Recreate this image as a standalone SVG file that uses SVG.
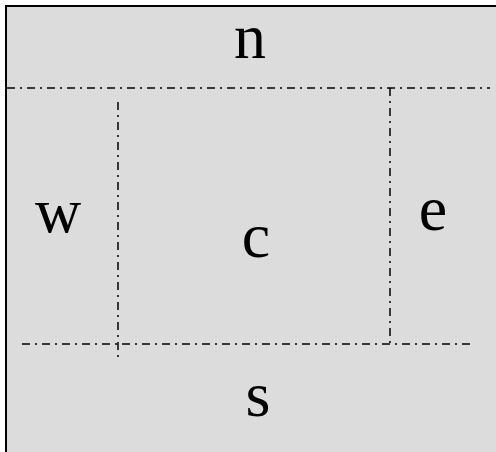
<svg xmlns="http://www.w3.org/2000/svg" width="496" height="452" viewBox="0 0 496 452">
<style>
.lbl{font-family:"Liberation Serif","Times New Roman",serif;font-size:64px;fill:#000;text-anchor:middle}
.dd{stroke:#000;stroke-width:1.5;stroke-dasharray:8 5 2 5;fill:none}
</style>
<rect x="6" y="6" width="520" height="480" fill="#dcdcdc" stroke="#000" stroke-width="2"/>
<g id="connectors">
<line class="dd" x1="7" y1="88" x2="490" y2="88"/>
<line class="dd" x1="22" y1="344" x2="470" y2="344"/>
<line class="dd" x1="118" y1="102" x2="118" y2="360"/>
<line class="dd" x1="390" y1="88" x2="390" y2="344"/>
</g>
<g id="n"><text class="lbl" x="250" y="58">n</text></g>
<g id="w"><text class="lbl" x="58" y="232">w</text></g>
<g id="c"><text class="lbl" x="256" y="257">c</text></g>
<g id="e"><text class="lbl" x="433" y="230">e</text></g>
<g id="s"><text class="lbl" x="258" y="416">s</text></g>
</svg>
